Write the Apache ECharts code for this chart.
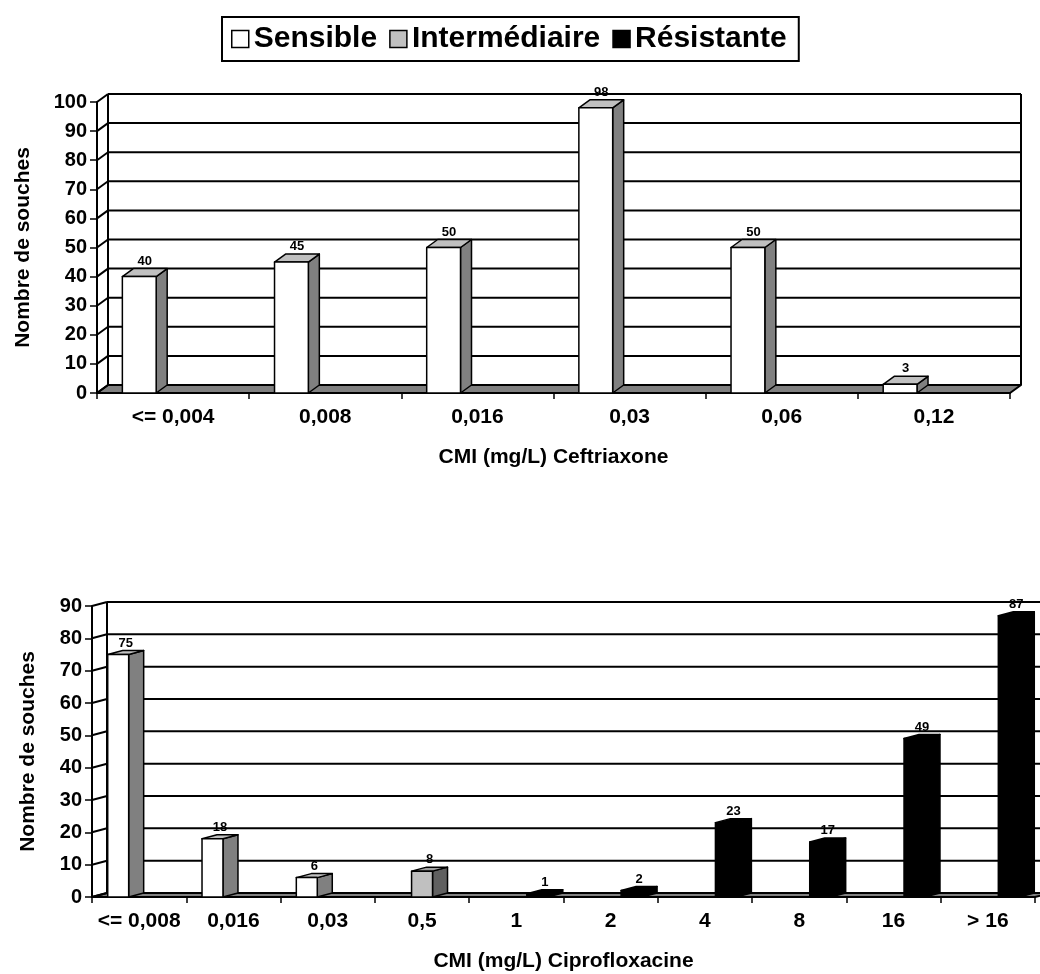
<!DOCTYPE html>
<html>
<head>
<meta charset="utf-8">
<script src="https://cdn.jsdelivr.net/npm/echarts@6/dist/echarts.min.js"></script>
<style>
  html, body { margin: 0; padding: 0; background: #ffffff; }
  #chart { width: 1040px; height: 974px; }
</style>
</head>
<body>
<div id="chart"></div>
<script>
// Ceftriaxone: number of strains per MIC value
const ceftriaxoneCategories = ['<= 0,004', '0,008', '0,016', '0,03', '0,06', '0,12'];
const ceftriaxoneSensible = [40, 45, 50, 98, 50, 3];
const ceftriaxoneIntermediaire = [0, 0, 0, 0, 0, 0];
const ceftriaxoneResistante = [0, 0, 0, 0, 0, 0];
const ceftriaxoneTicks = [0, 10, 20, 30, 40, 50, 60, 70, 80, 90, 100];

// Ciprofloxacine: number of strains per MIC value
const ciproCategories = ['<= 0,008', '0,016', '0,03', '0,5', '1', '2', '4', '8', '16', '> 16'];
const ciproSensible = [75, 18, 6, 0, 0, 0, 0, 0, 0, 0];
const ciproIntermediaire = [0, 0, 0, 8, 0, 0, 0, 0, 0, 0];
const ciproResistante = [0, 0, 0, 0, 1, 2, 23, 17, 49, 87];
const ciproTicks = [0, 10, 20, 30, 40, 50, 60, 70, 80, 90];

const seriesNames = ['Sensible', 'Intermédiaire', 'Résistante'];

const FONT = '"Liberation Sans", Arial, Helvetica, sans-serif';

// face colours of the pseudo-3D columns, one entry per series
const faceColors = [
  { front: '#ffffff', side: '#808080', top: '#c0c0c0' },
  { front: '#c0c0c0', side: '#606060', top: '#a0a0a0' },
  { front: '#000000', side: '#000000', top: '#000000' }
];

const panels = [
  {
    categories: ceftriaxoneCategories,
    values: [ceftriaxoneSensible, ceftriaxoneIntermediaire, ceftriaxoneResistante],
    ticks: ceftriaxoneTicks,
    title: 'CMI (mg/L) Ceftriaxone',
    grid: { left: 97, right: 30, top: 102, height: 291 },
    depth: [11, -8],
    yNameGap: 63,
    xNameGap: 54
  },
  {
    categories: ciproCategories,
    values: [ciproSensible, ciproIntermediaire, ciproResistante],
    ticks: ciproTicks,
    title: 'CMI (mg/L) Ciprofloxacine',
    grid: { left: 92, right: 5, top: 606, height: 291 },
    depth: [15, -4],
    yNameGap: 53,
    xNameGap: 54
  }
];

const grids = [], xAxes = [], yAxes = [], series = [];

panels.forEach((p, gi) => {
  const [dx, dy] = p.depth;
  const n = p.categories.length;
  const yMax = p.ticks[p.ticks.length - 1];

  grids.push(Object.assign({ containLabel: false }, p.grid));

  xAxes.push({
    gridIndex: gi,
    type: 'category',
    data: p.categories,
    boundaryGap: true,
    axisLine: { show: true, lineStyle: { color: '#000', width: 2 } },
    axisTick: { show: true, interval: 0, length: 6, lineStyle: { color: '#000', width: 1.5 } },
    axisLabel: { interval: 0, margin: 14, color: '#000', fontFamily: FONT, fontWeight: 'bold', fontSize: 21 },
    splitLine: { show: false },
    name: p.title,
    nameLocation: 'middle',
    nameGap: p.xNameGap,
    nameTextStyle: { color: '#000', fontFamily: FONT, fontWeight: 'bold', fontSize: 21 }
  });

  yAxes.push({
    gridIndex: gi,
    type: 'value',
    min: 0,
    max: yMax,
    interval: 10,
    axisLine: { show: true, lineStyle: { color: '#000', width: 2 } },
    axisTick: { show: true, length: 7, lineStyle: { color: '#000', width: 1.5 } },
    axisLabel: { margin: 10, color: '#000', fontFamily: FONT, fontWeight: 'bold', fontSize: 20 },
    splitLine: { show: false },
    name: 'Nombre de souches',
    nameLocation: 'middle',
    nameRotate: 90,
    nameGap: p.yNameGap,
    nameTextStyle: { color: '#000', fontFamily: FONT, fontWeight: 'bold', fontSize: 21 }
  });

  // floor and wall edges
  series.push({
    type: 'custom',
    xAxisIndex: gi,
    yAxisIndex: gi,
    z: 1,
    silent: true,
    clip: false,
    data: [[0, 0]],
    encode: { x: 0, y: 1 },
    renderItem: (params, api) => {
      const band = api.size([1, 0])[0];
      const pb = api.coord([0, 0]);
      const pt = api.coord([0, yMax]);
      const x0 = pb[0] - band / 2;
      const x1 = api.coord([n - 1, 0])[0] + band / 2;
      const y0 = pb[1];
      const yt = pt[1];
      return {
        type: 'group',
        children: [
          {
            type: 'polygon',
            shape: { points: [[x0, y0], [x1, y0], [x1 + dx, y0 + dy], [x0 + dx, y0 + dy]] },
            style: { fill: '#808080', stroke: '#000', lineWidth: 2, lineJoin: 'round' }
          },
          {
            type: 'line',
            shape: { x1: x0 + dx, y1: yt + dy, x2: x0 + dx, y2: y0 + dy },
            style: { stroke: '#000', lineWidth: 2 }
          },
          {
            type: 'line',
            shape: { x1: x1 + dx, y1: yt + dy, x2: x1 + dx, y2: y0 + dy },
            style: { stroke: '#000', lineWidth: 2 }
          }
        ]
      };
    }
  });

  // back-wall gridlines with their side-wall diagonals
  series.push({
    type: 'custom',
    xAxisIndex: gi,
    yAxisIndex: gi,
    z: 2,
    silent: true,
    clip: false,
    data: p.ticks.map(t => [0, t]),
    encode: { x: 0, y: 1 },
    renderItem: (params, api) => {
      const band = api.size([1, 0])[0];
      const pv = api.coord([0, api.value(1)]);
      const x0 = pv[0] - band / 2;
      const x1 = api.coord([n - 1, api.value(1)])[0] + band / 2;
      const y = pv[1];
      return {
        type: 'group',
        children: [
          {
            type: 'line',
            shape: { x1: x0, y1: y, x2: x0 + dx, y2: y + dy },
            style: { stroke: '#000', lineWidth: 2 }
          },
          {
            type: 'line',
            shape: { x1: x0 + dx, y1: y + dy, x2: x1 + dx, y2: y + dy },
            style: { stroke: '#000', lineWidth: 2 }
          }
        ]
      };
    }
  });

  // pseudo-3D clustered columns
  p.values.forEach((vals, si) => {
    const col = faceColors[si];
    const offset = si - 1;
    series.push({
      name: seriesNames[si],
      type: 'custom',
      xAxisIndex: gi,
      yAxisIndex: gi,
      z: 3,
      clip: false,
      itemStyle: { color: col.front, borderColor: '#000', borderWidth: 1.5 },
      data: vals.map((v, i) => [i, v]),
      encode: { x: 0, y: 1 },
      renderItem: (params, api) => {
        const val = api.value(1);
        if (!val) return null;
        const cat = api.value(0);
        const band = api.size([1, 0])[0];
        const w = band / 4.5;
        const base = api.coord([cat, 0]);
        const top = api.coord([cat, val]);
        const cx = base[0] + offset * w;
        const xl = cx - w / 2, xr = cx + w / 2;
        const yb = base[1], yt = top[1];
        const edge = { stroke: '#000', lineWidth: 1.5, lineJoin: 'round' };
        return {
          type: 'group',
          children: [
            {
              type: 'polygon',
              shape: { points: [[xr, yt], [xr + dx, yt + dy], [xr + dx, yb + dy], [xr, yb]] },
              style: Object.assign({ fill: col.side }, edge)
            },
            {
              type: 'polygon',
              shape: { points: [[xl, yt], [xr, yt], [xr + dx, yt + dy], [xl + dx, yt + dy]] },
              style: Object.assign({ fill: col.top }, edge)
            },
            {
              type: 'rect',
              shape: { x: xl, y: yt, width: w, height: yb - yt },
              style: Object.assign({ fill: col.front }, edge)
            },
            {
              type: 'text',
              z2: 10,
              style: {
                text: String(val),
                x: cx + dx / 2,
                y: yt + dy - 1,
                align: 'center',
                verticalAlign: 'bottom',
                font: 'bold 13px ' + FONT,
                fill: '#000'
              }
            }
          ]
        };
      }
    });
  });
});

const chart = echarts.init(document.getElementById('chart'), null, { renderer: 'canvas' });
chart.setOption({
  animation: false,
  backgroundColor: '#ffffff',
  legend: {
    left: 222,
    top: 17,
    orient: 'horizontal',
    selectedMode: false,
    itemWidth: 17,
    itemHeight: 17,
    itemGap: 12,
    padding: [7, 12, 7, 9],
    borderColor: '#000',
    borderWidth: 2,
    textStyle: { color: '#000', fontFamily: FONT, fontWeight: 'bold', fontSize: 30 },
    data: seriesNames.map((name, i) => ({
      name: name,
      icon: 'rect',
      itemStyle: { color: faceColors[i].front, borderColor: '#000', borderWidth: 1.5 }
    }))
  },
  grid: grids,
  xAxis: xAxes,
  yAxis: yAxes,
  series: series
});
</script>
</body>
</html>
